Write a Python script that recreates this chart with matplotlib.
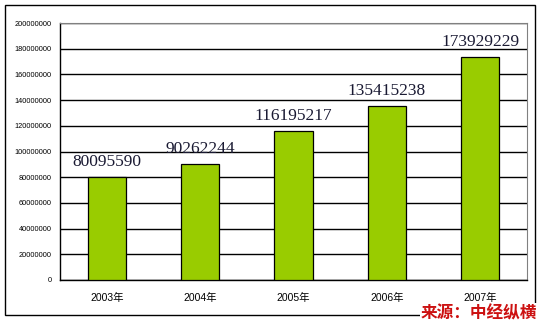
import matplotlib.pyplot as plt
from matplotlib.patches import Rectangle

# data
years = ['2003年', '2004年', '2005年', '2006年', '2007年']
values = [80095590, 90262244, 116195217, 135415238, 173929229]
yticks = list(range(0, 200000001, 20000000))

cjk = ['Liberation Sans', 'Noto Sans CJK SC']

fig = plt.figure(figsize=(5.44, 3.24), dpi=100)
ax = fig.add_axes([60 / 544, 1 - 280 / 324, 467 / 544, 257 / 324])

# outer frame
fig.patches.append(Rectangle((5 / 544, 1 - 315 / 324), 530 / 544, 310 / 324,
                             transform=fig.transFigure, fill=False,
                             edgecolor='black', linewidth=1.0))

x = list(range(len(years)))
ax.bar(x, values, width=0.41, color='#99CC00', edgecolor='black',
       linewidth=0.9, zorder=3)

for xi, v in zip(x, values):
    ax.annotate(str(v), (xi, v), xytext=(0, 5), textcoords='offset points',
                ha='center', va='bottom', fontsize=12.5,
                family='Liberation Serif', color='#1a1a33', zorder=4)

ax.set_xlim(-0.5, len(years) - 0.5)
ax.set_ylim(0, 200000000)
ax.set_yticks(yticks)
ax.set_yticklabels([str(t) for t in yticks], fontsize=5.3,
                   family='Liberation Sans')
ax.set_xticks(x)
ax.set_xticklabels(years, fontsize=7.5, family=cjk)
ax.tick_params(axis='both', length=0)
ax.tick_params(axis='y', pad=6)
ax.tick_params(axis='x', pad=9)
ax.grid(axis='y', color='black', linewidth=1.0, zorder=0)
ax.set_axisbelow(True)

for s in ['top', 'right']:
    ax.spines[s].set_color('#808080')
for s in ['left', 'bottom']:
    ax.spines[s].set_color('black')
    ax.spines[s].set_linewidth(1.0)

fig.text(537 / 544, 1 - 313 / 324, '来源：中经纵横', ha='right', va='center',
         fontsize=12, fontweight='bold', color='#CC1111',
         family=['Noto Sans CJK SC'],
         bbox=dict(facecolor='white', edgecolor='none', pad=0.5))

fig.savefig('out.png', dpi=100)
